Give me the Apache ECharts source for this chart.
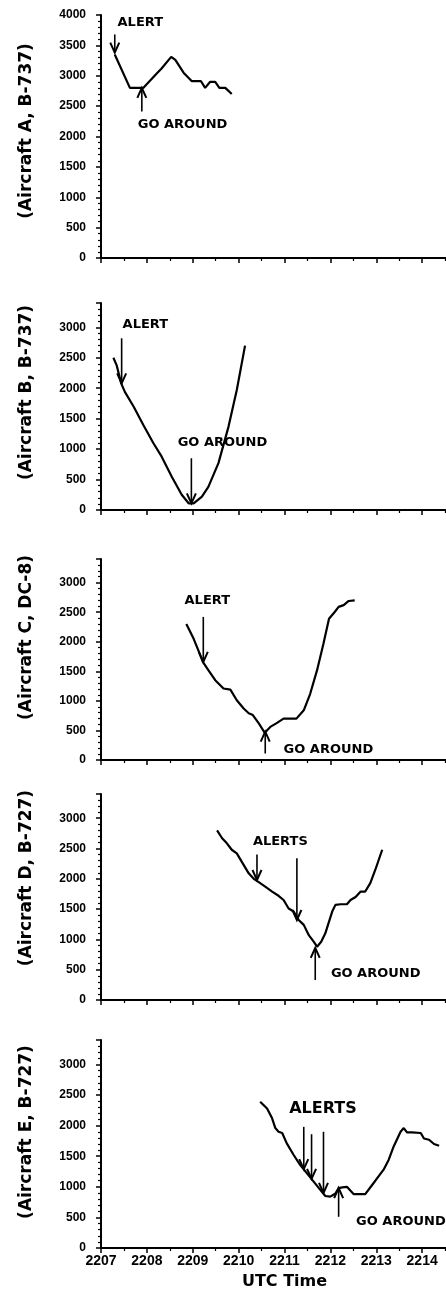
<!DOCTYPE html>
<html><head><meta charset="utf-8">
<script src="https://cdn.jsdelivr.net/npm/echarts@6/dist/echarts.min.js"></script>
<style>html,body{margin:0;padding:0;background:#fff}#c{width:446px;height:1297px}</style>
</head><body><div id="c"></div>
<script>
// ---- data ----
const xTicks = [2207, 2208, 2209, 2210, 2211, 2212, 2213, 2214];
const panelTitles = ['(Aircraft A, B-737)', '(Aircraft B, B-737)', '(Aircraft C, DC-8)', '(Aircraft D, B-727)', '(Aircraft E, B-727)'];
const yMax = [4000, 3400, 3400, 3400, 3400];

const tA = [2207.30, 2207.63, 2207.92, 2208.22, 2208.32, 2208.53, 2208.62, 2208.80, 2208.98, 2209.18, 2209.27, 2209.38, 2209.49, 2209.58, 2209.71, 2209.85];
const altA = [3350, 2800, 2800, 3040, 3120, 3310, 3260, 3050, 2910, 2910, 2800, 2900, 2900, 2800, 2800, 2700];

const tB = [2207.27, 2207.34, 2207.44, 2207.52, 2207.71, 2207.92, 2208.14, 2208.32, 2208.54, 2208.76, 2208.91, 2209.02, 2209.20, 2209.34, 2209.56, 2209.78, 2209.96, 2210.14];
const altB = [2500, 2380, 2080, 1940, 1700, 1400, 1100, 880, 550, 250, 110, 110, 220, 380, 770, 1370, 1970, 2700];

const tC = [2208.86, 2209.02, 2209.12, 2209.22, 2209.34, 2209.49, 2209.67, 2209.82, 2209.96, 2210.11, 2210.22, 2210.31, 2210.44, 2210.57, 2210.69, 2210.82, 2210.98, 2211.26, 2211.42, 2211.56, 2211.71, 2211.85, 2211.97, 2212.09, 2212.18, 2212.29, 2212.40, 2212.53];
const altC = [2300, 2050, 1860, 1660, 1520, 1350, 1210, 1190, 1010, 870, 790, 760, 620, 460, 560, 620, 700, 700, 840, 1120, 1520, 1970, 2390, 2500, 2590, 2620, 2690, 2700];

const tD = [2209.53, 2209.64, 2209.74, 2209.85, 2209.96, 2210.07, 2210.22, 2210.33, 2210.43, 2210.58, 2210.73, 2210.87, 2210.98, 2211.09, 2211.20, 2211.31, 2211.42, 2211.53, 2211.64, 2211.71, 2211.80, 2211.89, 2211.96, 2212.04, 2212.11, 2212.22, 2212.36, 2212.44, 2212.55, 2212.66, 2212.76, 2212.87, 2212.98, 2213.13];
const altD = [2800, 2670, 2590, 2480, 2420, 2280, 2090, 2000, 1950, 1870, 1790, 1720, 1650, 1510, 1460, 1320, 1240, 1070, 960, 880, 960, 1100, 1270, 1460, 1570, 1580, 1580, 1650, 1700, 1790, 1790, 1930, 2150, 2480];

const tE = [2210.47, 2210.62, 2210.73, 2210.80, 2210.87, 2210.95, 2211.05, 2211.20, 2211.34, 2211.49, 2211.64, 2211.78, 2211.89, 2212.00, 2212.11, 2212.18, 2212.26, 2212.36, 2212.51, 2212.76, 2212.91, 2213.05, 2213.16, 2213.27, 2213.38, 2213.53, 2213.60, 2213.67, 2213.78, 2213.97, 2214.04, 2214.15, 2214.26, 2214.37];
const altE = [2390, 2280, 2120, 1960, 1900, 1880, 1710, 1520, 1360, 1220, 1080, 950, 850, 840, 890, 980, 990, 1000, 880, 880, 1030, 1170, 1280, 1440, 1660, 1900, 1960, 1890, 1890, 1880, 1790, 1770, 1700, 1670];

// arrows: [time, start altitude, tip altitude]
const arrowsA = [[2207.30, 3680, 3380], [2207.89, 2410, 2800]];
const arrowsB = [[2207.45, 2820, 2080], [2208.97, 850, 110]];
const arrowsC = [[2209.23, 2420, 1660], [2210.58, 110, 480]];
const arrowsD = [[2210.40, 2400, 1980], [2211.27, 2340, 1320], [2211.67, 330, 860]];
const arrowsE = [[2211.42, 1980, 1290], [2211.59, 1860, 1130], [2211.85, 1900, 900], [2212.18, 510, 980]];

// annotation texts: [text, time, altitude]
const notesA = [['ALERT', 2207.35, 3868], ['GO AROUND', 2207.79, 2190]];
const notesB = [['ALERT', 2207.46, 3040], ['GO AROUND', 2208.66, 1100]];
const notesC = [['ALERT', 2208.81, 2690], ['GO AROUND', 2210.97, 170]];
const notesD = [['ALERTS', 2210.30, 2610], ['GO AROUND', 2212.00, 440]];
const notesE = [['ALERTS', 2211.09, 2270], ['GO AROUND', 2212.55, 430]];

// ---- layout ----
const times = [tA, tB, tC, tD, tE];
const alts = [altA, altB, altC, altD, altE];
const arrows = [arrowsA, arrowsB, arrowsC, arrowsD, arrowsE];
const notes = [notesA, notesB, notesC, notesD, notesE];
const gridTops = [15, 303, 559, 794, 1040];
const gridHeights = [243, 207, 201, 206, 208];
const titleShift = [11, 28, 44, 38, 24];

const FONT = '"DejaVu Sans", sans-serif';
const NUMFONT = '"Liberation Sans", Arial, sans-serif';

function renderArrow(params, api) {
  const x = api.value(0), a0 = api.value(1), a1 = api.value(2);
  const p0 = api.coord([x, a0]), p1 = api.coord([x, a1]);
  const dir = p1[1] > p0[1] ? 1 : -1;
  const hl = 10, hw = 4.5;
  return {
    type: 'group',
    children: [
      { type: 'line', shape: { x1: p0[0], y1: p0[1], x2: p1[0], y2: p1[1] }, style: { stroke: '#000', lineWidth: 1.6 } },
      { type: 'polyline', shape: { points: [[p1[0] - hw, p1[1] - dir * hl], [p1[0], p1[1]], [p1[0] + hw, p1[1] - dir * hl]] },
        style: { stroke: '#000', lineWidth: 2, fill: null } }
    ]
  };
}

const grid = [], xAxis = [], yAxis = [], series = [];
for (let i = 0; i < 5; i++) {
  const last = i === 4;
  grid.push({ left: 101, width: 367, top: gridTops[i], height: gridHeights[i], outerBoundsMode: 'none', containLabel: false });
  xAxis.push({
    type: 'value', gridIndex: i, min: xTicks[0], max: 2215, interval: 1,
    axisLine: { show: true, lineStyle: { color: '#000', width: 2 } },
    axisTick: { show: true, length: 5, lineStyle: { color: '#000', width: 1.5 } },
    minorTick: { show: true, splitNumber: 2, length: 3, lineStyle: { color: '#000', width: 1.2 } },
    splitLine: { show: false },
    axisLabel: { show: last, color: '#000', fontFamily: NUMFONT, fontWeight: 'bold', fontSize: 14, margin: 6,
      formatter: v => xTicks.indexOf(v) >= 0 ? String(v) : '' },
    name: last ? 'UTC Time' : '', nameLocation: 'middle', nameGap: 26,
    nameTextStyle: { color: '#000', fontFamily: FONT, fontWeight: 'bold', fontSize: 16 }
  });
  yAxis.push({
    type: 'value', gridIndex: i, min: 0, max: yMax[i], interval: 500,
    axisLine: { show: true, lineStyle: { color: '#000', width: 2 } },
    axisTick: { show: true, length: 5, lineStyle: { color: '#000', width: 1.5 } },
    minorTick: { show: true, splitNumber: 5, length: 3, lineStyle: { color: '#000', width: 1.2 } },
    splitLine: { show: false },
    axisLabel: { color: '#000', fontFamily: NUMFONT, fontWeight: 'bold', fontSize: 12, margin: 15, showMaxLabel: i === 0,
      formatter: v => String(v) },
    name: panelTitles[i], nameLocation: 'middle', nameGap: 66, nameRotate: 90,
    nameTextStyle: { color: '#000', fontFamily: FONT, fontWeight: 'bold', fontSize: 17, padding: [0, 0, 0, titleShift[i]] }
  });
  series.push({
    type: 'line', xAxisIndex: i, yAxisIndex: i, showSymbol: false, symbol: 'none', silent: true,
    lineStyle: { color: '#000', width: 2.2 }, data: times[i].map((t, k) => [t, alts[i][k]])
  });
  series.push({
    type: 'custom', xAxisIndex: i, yAxisIndex: i, silent: true, clip: false,
    renderItem: renderArrow, encode: { x: 0, y: [1, 2] }, data: arrows[i]
  });
  series.push({
    type: 'scatter', xAxisIndex: i, yAxisIndex: i, silent: true, symbolSize: 1,
    itemStyle: { color: 'rgba(0,0,0,0)' },
    label: { show: true, position: 'right', distance: 0, formatter: '{b}', color: '#000', opacity: 1,
      fontFamily: FONT, fontWeight: 'bold', fontSize: 13 },
    data: notes[i].map(n => ({ name: n[0], value: [n[1], n[2]],
      label: (last && n[0] === 'ALERTS') ? { fontSize: 16 } : undefined }))
  });
}

const chart = echarts.init(document.getElementById('c'), null, { renderer: 'canvas' });
chart.setOption({ animation: false, backgroundColor: '#fff', grid, xAxis, yAxis, series });
</script></body></html>
